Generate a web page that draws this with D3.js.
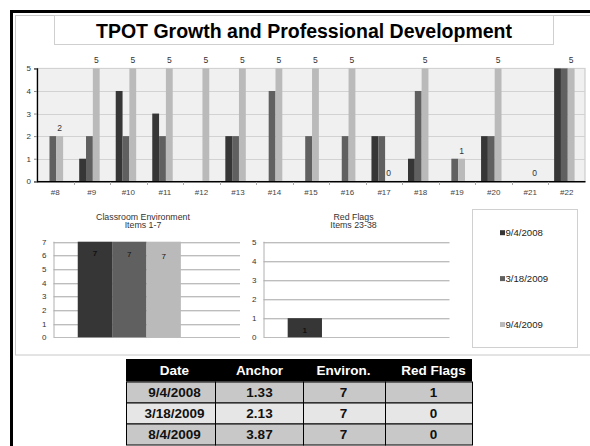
<!DOCTYPE html>
<html><head><meta charset="utf-8">
<script src="https://cdn.jsdelivr.net/npm/d3@7"></script>
<style>html,body{margin:0;padding:0;background:#fff;}svg{display:block;font-family:"Liberation Sans",Arial,sans-serif;}</style>
</head><body>
<svg id="c" width="590" height="446"></svg>
<script>
// ---- data ----
const categories = ["#8","#9","#10","#11","#12","#13","#14","#15","#16","#17","#18","#19","#20","#21","#22"];
const seriesNames = ["9/4/2008","3/18/2009","9/4/2009"];
const seriesColors = ["#363636","#606060","#bababa"];
const anchorSep2008 = [0,1,4,3,0,2,0,0,0,2,1,0,2,0,5];
const anchorMar2009 = [2,2,2,2,0,2,4,2,2,2,4,1,2,0,5];
const anchorSep2009 = [2,5,5,5,5,5,5,5,5,0,5,1,5,0,5];
const topTicks = [0,1,2,3,4,5];
const envValues = [7,7,7];
const envTicks = [0,1,2,3,4,5,6,7];
const redFlagValues = [1,0,0];
const redTicks = [0,1,2,3,4,5];
const tableHeader = ["Date","Anchor","Environ.","Red Flags"];
const tableDates = ["9/4/2008","3/18/2009","8/4/2009"];
const tableAnchor = ["1.33","2.13","3.87"];
const tableEnviron = ["7","7","7"];
const tableRedFlags = ["1","0","0"];

const svg = d3.select("#c");

// ---- frame ----
svg.append("rect").attr("x",15.5).attr("y",15.5).attr("width",600).attr("height",339.5)
  .attr("fill","none").attr("stroke","#c8c8c8");
svg.append("path").attr("d","M11.5,446V11.5H590").attr("fill","none").attr("stroke","#000").attr("stroke-width",3);
svg.append("rect").attr("x",54.5).attr("y",15.5).attr("width",499).attr("height",29)
  .attr("fill","#fff").attr("stroke","#cfcfcf");
svg.append("text").attr("x",304).attr("y",37.5).attr("text-anchor","middle")
  .attr("font-size",19.5).attr("font-weight","bold").attr("fill","#000")
  .text("TPOT Growth and Professional Development");

// ---- top chart ----
const series = [anchorSep2008, anchorMar2009, anchorSep2009];
const tx = d3.scaleBand().domain(categories).range([37,585]);
const bw = tx.bandwidth();
const tx1 = d3.scaleBand().domain(seriesNames).range([bw*0.155, bw*0.715]);
const ty = d3.scaleLinear().domain([0,5]).range([181.3,68.4]);
const topG = svg.append("g");
topG.append("rect").attr("x",37).attr("y",68.4).attr("width",548).attr("height",181.3-68.4)
  .attr("fill","#f0f0f0").attr("stroke","#c4c4c4");
topG.selectAll("line.g").data(topTicks.filter(d=>d>0)).join("line")
  .attr("x1",37).attr("x2",585).attr("y1",d=>Math.round(ty(d))+0.5).attr("y2",d=>Math.round(ty(d))+0.5)
  .attr("stroke","#d2d2d2");
seriesNames.forEach((s,si)=>{
  topG.selectAll("rect.s"+si).data(categories).join("rect")
    .attr("x",c=>tx(c)+tx1(s)).attr("width",tx1.bandwidth())
    .attr("y",(c,i)=>ty(series[si][i])).attr("height",(c,i)=>ty(0)-ty(series[si][i]))
    .attr("fill",seriesColors[si]);
});
topG.selectAll("text.dl").data(categories).join("text")
  .attr("x",c=>tx(c)+tx1(seriesNames[2])+tx1.bandwidth()/2)
  .attr("y",(c,i)=>ty(anchorSep2009[i])-5)
  .attr("text-anchor","middle").attr("font-size",8.5).attr("fill","#333")
  .text((c,i)=>anchorSep2009[i]);
const yAxisTop = d3.axisLeft(ty).tickValues(topTicks).tickSize(3).tickFormat(d3.format("d"));
const gy = topG.append("g").attr("transform","translate(37,0)").call(yAxisTop);
gy.select(".domain").attr("stroke","#000").attr("stroke-width",1.3);
gy.selectAll(".tick line").attr("stroke","#888");
gy.selectAll("text").attr("font-size",8).attr("fill","#333").attr("x",-6).attr("font-family","Liberation Sans, Arial");
const xAxisTop = d3.axisBottom(tx).tickSize(0);
const gx = topG.append("g").attr("transform","translate(0,181.3)").call(xAxisTop);
gx.select(".domain").attr("stroke","#000").attr("stroke-width",1.6);
gx.selectAll("text").attr("font-size",8).attr("fill","#444").attr("dy","0").attr("y",13.5).attr("font-family","Liberation Sans, Arial");
topG.selectAll("line.bt").data(categories.slice(1)).join("line")
  .attr("x1",c=>Math.round(tx(c))+0.5).attr("x2",c=>Math.round(tx(c))+0.5)
  .attr("y1",182).attr("y2",185).attr("stroke","#aaa");

// ---- small bar charts ----
function smallChart(opts){
  const g = svg.append("g");
  const x0 = d3.scaleBand().domain([opts.cat]).range([opts.x0,opts.x1]);
  const bw0 = x0.bandwidth();
  const x1 = d3.scaleBand().domain(seriesNames).range([bw0*0.13, bw0*0.683]);
  const y = d3.scaleLinear().domain([0,d3.max(opts.ticks)]).range([337.3,241.7]);
  opts.title.forEach((t,i)=>{
    g.append("text").attr("x",opts.tcx).attr("y",219.8+i*8.6).attr("text-anchor","middle")
      .attr("font-size",8.8).attr("fill","#333").text(t);
  });
  g.selectAll("line.g").data(opts.ticks).join("line")
    .attr("x1",opts.x0).attr("x2",opts.x1)
    .attr("y1",d=>Math.round(y(d))+0.5).attr("y2",d=>Math.round(y(d))+0.5)
    .attr("stroke","#bdbdbd");
  g.selectAll("line.g2").data(opts.ticks.filter(d=>d>0)).join("line")
    .attr("x1",opts.x0).attr("x2",opts.x1)
    .attr("y1",d=>Math.round(y(d))+1.5).attr("y2",d=>Math.round(y(d))+1.5)
    .attr("stroke","#e6e6e6");
  g.append("line").attr("x1",opts.x0+0.5).attr("x2",opts.x0+0.5).attr("y1",y(d3.max(opts.ticks))).attr("y2",y(0))
    .attr("stroke","#b0b0b0");
  g.selectAll("rect.b").data(opts.values).join("rect")
    .attr("x",(v,i)=>x0(opts.cat)+x1(seriesNames[i])).attr("width",x1.bandwidth())
    .attr("y",v=>y(v)).attr("height",v=>y(0)-y(v))
    .attr("fill",(v,i)=>seriesColors[i]);
  g.selectAll("text.l").data(opts.values).join("text")
    .attr("x",(v,i)=>x0(opts.cat)+x1(seriesNames[i])+x1.bandwidth()/2)
    .attr("y",(v,i)=>y(v)+14.5+(i===2?3:i))
    .attr("text-anchor","middle").attr("font-size",8).attr("fill","#111")
    .attr("font-weight",(v,i)=>i===0?"bold":"normal")
    .text(v=>v>0?v:"");
  g.selectAll("text.t").data(opts.ticks).join("text")
    .attr("x",opts.x0-7).attr("y",d=>y(d)+3).attr("text-anchor","end")
    .attr("font-size",8).attr("fill","#333").text(d=>d);
}
smallChart({cat:"Items 1-7", values:envValues, ticks:envTicks, x0:53.5, x1:240, tcx:143,
  title:["Classroom Environment","Items 1-7"]});
smallChart({cat:"Items 23-38", values:redFlagValues, ticks:redTicks, x0:263.5, x1:449.5, tcx:353.5,
  title:["Red Flags","Items 23-38"]});

// ---- legend ----
const lg = svg.append("g");
lg.append("rect").attr("x",472.5).attr("y",209.5).attr("width",105).attr("height",138)
  .attr("fill","#fff").attr("stroke","#d0d0d0");
const ly = d3.scalePoint().domain(seriesNames).range([232.7,324.5]);
lg.selectAll("rect.k").data(seriesNames).join("rect")
  .attr("x",500).attr("y",s=>ly(s)-2.5).attr("width",5).attr("height",5)
  .attr("fill",(s,i)=>seriesColors[i]);
lg.selectAll("text").data(seriesNames).join("text")
  .attr("x",505.5).attr("y",s=>ly(s)+3.5).attr("font-size",9.6).attr("fill","#222").text(s=>s);

// ---- table ----
const colEdges = [126,215,303,385,472];
const colText = [174.5,259.5,343.5,433.5];
const rowEdges = [359,381.5,402.5,423.5,444.5];
const rows = tableDates.map((d,i)=>[d,tableAnchor[i],tableEnviron[i],tableRedFlags[i]]);
const rowFill = ["#c8c8c8","#e6e6e6","#c8c8c8"];
const tb = svg.append("g");
tb.append("rect").attr("x",colEdges[0]).attr("y",rowEdges[0]).attr("width",colEdges[4]-colEdges[0])
  .attr("height",rowEdges[1]-rowEdges[0]).attr("fill","#000");
rows.forEach((r,ri)=>{
  r.forEach((v,ci)=>{
    tb.append("rect").attr("x",colEdges[ci]+0.5).attr("y",rowEdges[ri+1]+0.5)
      .attr("width",colEdges[ci+1]-colEdges[ci]).attr("height",rowEdges[ri+2]-rowEdges[ri+1])
      .attr("fill",rowFill[ri]).attr("stroke","#000").attr("stroke-width",1);
    tb.append("text").attr("x",colText[ci]).attr("y",(rowEdges[ri+1]+rowEdges[ri+2])/2+5)
      .attr("text-anchor","middle").attr("font-size",13.5).attr("font-weight","bold").attr("fill","#111").text(v);
  });
});
tableHeader.forEach((h,ci)=>{
  tb.append("text").attr("x",colText[ci]).attr("y",(rowEdges[0]+rowEdges[1])/2+5)
    .attr("text-anchor","middle").attr("font-size",13.5).attr("font-weight","bold").attr("fill","#fff").text(h);
});
</script>
</body></html>
